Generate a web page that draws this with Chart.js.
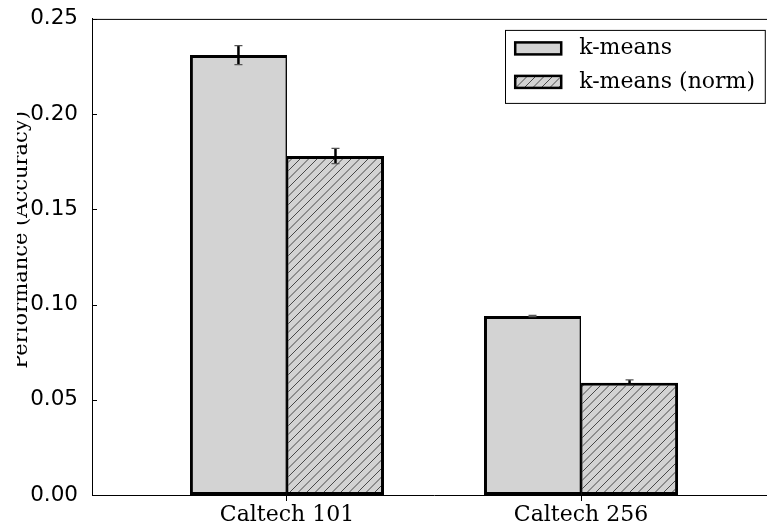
<!DOCTYPE html>
<html>
<head>
<meta charset="utf-8">
<script src="https://cdn.jsdelivr.net/npm/chart.js@4.4.0/dist/chart.umd.min.js"></script>
<style>
  html, body { margin: 0; padding: 0; background: #fff; overflow: hidden; }
  #wrap { width: 800px; height: 527px; }
</style>
</head>
<body>
<div id="wrap"><canvas id="chart" width="800" height="527"></canvas></div>
<script>
// data
const categories   = ['Caltech 101', 'Caltech 256'];
const seriesNames  = ['k-means', 'k-means (norm)'];
const kmeansValues = [0.231, 0.094];
const kmeansErrors = [0.0050, 0.0003];
const normValues   = [0.178, 0.059];
const normErrors   = [0.0040, 0.0014];
const yTickValues  = [0, 0.05, 0.10, 0.15, 0.20, 0.25];
const yTitle       = 'Performance (Accuracy)';

const serif   = "'DejaVu Serif', serif";
const sans    = "'DejaVu Sans', sans-serif";
const barFill = '#d3d3d3';

// "/" hatch, stripes about 8.5px apart
function makeHatch() {
    const size = 17;
    const c = document.createElement('canvas');
    c.width = size;
    c.height = size;
    const g = c.getContext('2d');
    g.fillStyle = barFill;
    g.fillRect(0, 0, size, size);
    g.strokeStyle = '#484848';
    g.lineWidth = 1;
    for (let k = -2; k <= 1; k++) {
        const off = k * size / 2;
        g.beginPath();
        g.moveTo(off, size);
        g.lineTo(off + size, 0);
        g.stroke();
    }
    return c;
}

const ctx   = document.getElementById('chart').getContext('2d');
const hatch = ctx.createPattern(makeHatch(), 'repeat');

const toPoints = vals => vals.map((v, i) => ({ x: i, y: v }));

const errorBars = {
    id: 'errorBars',
    afterDatasetsDraw(chart) {
        const c = chart.ctx;
        const y = chart.scales.y;
        chart.data.datasets.forEach((ds, di) => {
            const meta = chart.getDatasetMeta(di);
            meta.data.forEach((bar, i) => {
                const v = ds.data[i].y;
                const e = ds.errors[i];
                const top = y.getPixelForValue(v + e);
                const bot = y.getPixelForValue(v - e);
                c.save();
                c.strokeStyle = '#000';
                c.lineWidth = 2.5;
                c.beginPath();
                c.moveTo(bar.x, top);
                c.lineTo(bar.x, bot);
                c.stroke();
                c.strokeStyle = '#555';
                c.lineWidth = 1.2;
                c.beginPath();
                c.moveTo(bar.x - 4, top);
                c.lineTo(bar.x + 4, top);
                c.moveTo(bar.x - 4, bot);
                c.lineTo(bar.x + 4, bot);
                c.stroke();
                c.restore();
            });
        });
    }
};

const frame = {
    id: 'frame',
    afterDraw(chart) {
        const c = chart.ctx;
        const a = chart.chartArea;
        const y = chart.scales.y;
        c.save();
        c.strokeStyle = '#000';
        c.lineWidth = 1;
        c.beginPath();
        c.moveTo(a.left, a.top + 0.5);
        c.lineTo(a.right, a.top + 0.5);
        c.moveTo(a.right - 0.5, a.top);
        c.lineTo(a.right - 0.5, a.bottom);
        // inward y ticks
        yTickValues.forEach(v => {
            const py = Math.round(y.getPixelForValue(v)) + 0.5;
            c.moveTo(a.left, py);
            c.lineTo(a.left + 5, py);
        });
        c.stroke();

        // y title, clipped at the left like the original
        c.beginPath();
        c.rect(17, 0, 200, chart.height);
        c.clip();
        c.translate(27, 240);
        c.rotate(-Math.PI / 2);
        c.font = '21px ' + serif;
        c.fillStyle = '#000';
        c.textAlign = 'center';
        c.textBaseline = 'alphabetic';
        c.fillText(yTitle, 0, 0);
        c.restore();
    }
};

const boxLegend = {
    id: 'boxLegend',
    afterDraw(chart) {
        const c = chart.ctx;
        const a = chart.chartArea;
        const fills = [barFill, hatch];
        c.save();
        c.font = '22px ' + serif;
        const textW = Math.max.apply(null, seriesNames.map(s => c.measureText(s).width));
        const w = 10 + 46 + 18 + textW + 10;
        const right = a.right - 11;
        const left = right - w;
        const top = a.top + 11;
        c.fillStyle = '#fff';
        c.fillRect(left, top, w, 73);
        c.strokeStyle = '#000';
        c.lineWidth = 1;
        c.strokeRect(Math.round(left) + 0.5, top + 0.5, w, 73);
        seriesNames.forEach((name, i) => {
            const cy = top + 18.5 + i * 33.5;
            c.fillStyle = fills[i];
            c.fillRect(left + 10, cy - 6, 46, 12);
            c.lineWidth = 2.5;
            c.strokeRect(left + 10, cy - 6, 46, 12);
            c.fillStyle = '#000';
            c.textBaseline = 'middle';
            c.fillText(name, left + 74, cy);
        });
        c.restore();
    }
};

new Chart(ctx, {
    type: 'bar',
    data: {
        datasets: [
            {
                label: seriesNames[0],
                data: toPoints(kmeansValues),
                errors: kmeansErrors,
                backgroundColor: barFill,
                borderColor: '#000',
                borderWidth: { top: 3, left: 3, bottom: 3, right: 1.6 },
                borderSkipped: false
            },
            {
                label: seriesNames[1],
                data: toPoints(normValues),
                errors: normErrors,
                backgroundColor: hatch,
                borderColor: '#000',
                borderWidth: { top: 3, left: 1.6, bottom: 3, right: 3 },
                borderSkipped: false
            }
        ]
    },
    options: {
        responsive: false,
        animation: false,
        categoryPercentage: 0.66,
        barPercentage: 1,
        layout: { padding: { top: 18, right: 24, bottom: 0, left: 0 } },
        plugins: {
            legend: { display: false },
            tooltip: { enabled: false }
        },
        scales: {
            x: {
                type: 'linear',
                min: -0.663,
                max: 1.663,
                offset: false,
                afterBuildTicks: s => { s.ticks = categories.map((_, i) => ({ value: i })); },
                afterFit: s => { s.height = 32; },
                ticks: {
                    callback: v => categories[v],
                    font: { family: serif, size: 22 },
                    color: '#000',
                    padding: 1,
                    maxRotation: 0,
                    autoSkip: false
                },
                grid: { drawOnChartArea: false, tickLength: 6, color: '#000', offset: false },
                border: { display: true, color: '#000', width: 1 }
            },
            y: {
                min: 0,
                max: 0.25,
                afterBuildTicks: s => { s.ticks = yTickValues.map(v => ({ value: v })); },
                afterFit: s => { s.width = 92; },
                ticks: {
                    callback: v => v.toFixed(2),
                    font: { family: sans, size: 21.5 },
                    color: '#000',
                    padding: 6
                },
                grid: { display: false },
                border: { display: true, color: '#000', width: 1 }
            }
        }
    },
    plugins: [errorBars, frame, boxLegend]
});
</script>
</body>
</html>
